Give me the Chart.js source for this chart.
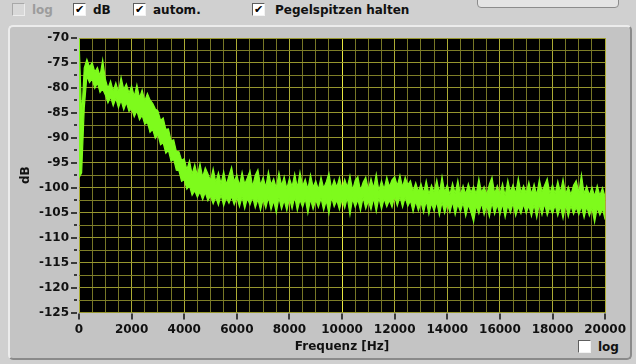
<!DOCTYPE html>
<html>
<head>
<meta charset="utf-8">
<script src="https://cdn.jsdelivr.net/npm/chart.js@4.4.1/dist/chart.umd.min.js"></script>
<style>
  html, body { margin: 0; padding: 0; }
  body {
    width: 636px; height: 364px; overflow: hidden; position: relative;
    background: #d0d0d0;
    font-family: "DejaVu Sans", sans-serif; font-weight: bold; font-size: 12px; color: #111;
  }
  .panel {
    position: absolute; left: 8px; top: 25px; width: 620px; height: 331px;
    background: #c4c4c4; border: 2px solid; border-color: #ececec #8a8a8a #8a8a8a #ececec;
    border-radius: 5px;
  }
  .topbtn {
    position: absolute; left: 477px; top: -10px; width: 140px; height: 16px;
    background: #e4e4e4; border: 1px solid #8c8c8c; border-radius: 4px;
  }
  .cb {
    position: absolute; width: 11px; height: 11px; background: #fff;
    border: 1px solid; border-color: #5e5e5e #f2f2f2 #f2f2f2 #5e5e5e;
    font-size: 11px; line-height: 11px; text-align: center; color: #000;
  }
  .cb.off { background: #d8d8d8; border-color: #a8a8a8 #ececec #ececec #a8a8a8; }
  .lbl { position: absolute; white-space: nowrap; line-height: 16px; }
  .lbl.off { color: #9c9c9c; }
  #wrap { position: absolute; left: 0; top: 0; width: 636px; height: 364px; }
</style>
</head>
<body>
<div class="topbtn"></div>
<div class="cb off" style="left:12px;top:3px"></div><div class="lbl off" style="left:32px;top:2px">log</div>
<div class="cb" style="left:73px;top:3px">✔</div><div class="lbl" style="left:93px;top:2px">dB</div>
<div class="cb" style="left:133px;top:3px">✔</div><div class="lbl" style="left:153px;top:2px">autom.</div>
<div class="cb" style="left:252px;top:3px">✔</div><div class="lbl" style="left:275px;top:2px">Pegelspitzen halten</div>
<div class="panel"></div>
<div class="cb" style="left:578px;top:340px"></div><div class="lbl" style="left:598px;top:339px">log</div>
<div id="wrap"><canvas id="spektrum" width="636" height="364"></canvas></div>

<script>
// Spektrum, 100 Hz Raster, obere und untere Huellkurve in dB
const freqStepHz = 100;

const pegelOben = [
  -70, -86, -76, -74.3, -75.8, -74.9, -76.8, -75.9, -77.6, -74.4,
  -78.2, -80.1, -78.6, -80.6, -79.0, -80.9, -77.9, -80.3, -79.2, -81.0,
  -79.6, -81.7, -79.4, -82.0, -80.4, -82.6, -81.1, -82.4, -83.1, -84.2,
  -84.6, -86.5, -86.0, -88.3, -88.2, -90.6, -90.4, -92.7, -92.8, -94.5,
  -94.2, -96.4, -94.6, -97.3, -95.4, -97.6, -95.2, -97.9, -96.0, -97.2,
  -98.6, -96.2, -98.9, -97.0, -99.2, -96.8, -99.4, -97.6, -95.9, -98.8,
  -97.4, -99.6, -96.9, -99.3, -98.0, -96.6, -99.8, -97.5, -96.4, -99.5,
  -97.9, -99.9, -96.8, -99.4, -98.2, -100.1, -97.0, -99.6, -97.8, -100.2,
  -98.1, -99.8, -97.2, -100.0, -96.9, -99.7, -98.3, -100.3, -97.4, -99.9,
  -98.6, -100.4, -97.9, -100.1, -98.8, -97.1, -100.2, -98.4, -99.9, -98.0,
  -100.2, -98.3, -99.9, -97.6, -100.5, -98.5, -97.8, -100.6, -98.9, -97.9,
  -100.4, -98.2, -100.1, -97.3, -100.6, -98.6, -100.3, -97.9, -99.8, -98.4,
  -97.8, -99.6, -97.5, -99.9, -97.9, -99.4, -98.6, -100.7, -99.0, -100.8,
  -99.2, -101.1, -98.6, -101.3, -99.5, -100.9, -98.4, -101.2, -97.8, -100.9,
  -99.4, -101.4, -99.1, -101.2, -98.5, -101.5, -99.6, -101.3, -99.2, -101.0,
  -99.7, -101.3, -98.2, -101.0, -99.8, -101.4, -99.3, -97.9, -101.2, -99.6,
  -101.3, -99.2, -101.6, -98.5, -100.9, -99.4, -101.2, -98.1, -101.0, -99.6,
  -101.1, -98.9, -101.3, -99.3, -101.5, -98.4, -100.8, -99.5, -98.2, -101.2,
  -99.4, -101.2, -98.7, -101.0, -98.3, -101.3, -99.8, -101.4, -99.5, -98.6,
  -101.0, -97.4, -101.2, -99.7, -101.5, -99.9, -101.7, -99.6, -101.6, -100.0, -101.9
];

const pegelUnten = [
  -98, -97, -84, -77.6, -78.9, -78.2, -80.1, -79.0, -80.9, -80.2,
  -81.4, -83.0, -81.8, -83.6, -82.1, -84.0, -82.5, -84.4, -82.9, -84.7,
  -84.2, -85.8, -84.6, -86.4, -85.5, -87.3, -86.9, -88.9, -88.3, -90.1,
  -89.3, -91.4, -91.0, -93.1, -92.5, -94.7, -94.3, -96.5, -96.6, -98.7,
  -98.4, -100.3, -99.6, -101.5, -100.6, -101.9, -100.8, -102.4, -100.9, -102.6,
  -101.6, -103.2, -101.9, -103.5, -101.4, -103.6, -102.0, -103.1, -101.7, -103.4,
  -101.9, -103.8, -101.8, -104.2, -102.1, -103.4, -101.9, -104.0, -102.3, -104.5,
  -102.3, -104.1, -101.9, -104.4, -102.6, -105.0, -102.0, -104.3, -102.5, -104.6,
  -102.1, -104.2, -101.8, -104.6, -102.4, -103.9, -102.2, -105.1, -102.3, -104.3,
  -102.4, -103.9, -102.1, -104.5, -102.6, -105.2, -101.9, -103.8, -102.5, -104.4,
  -102.3, -104.1, -102.0, -105.4, -102.2, -103.9, -102.4, -104.6, -101.9, -104.2,
  -102.6, -104.4, -102.1, -104.8, -102.0, -104.3, -102.2, -103.8, -102.5, -103.9,
  -101.7, -103.6, -101.8, -103.9, -101.9, -103.7, -102.6, -104.8, -102.7, -104.6,
  -102.9, -105.0, -102.6, -105.3, -103.1, -104.7, -102.8, -105.5, -102.9, -105.1,
  -103.2, -104.9, -102.8, -105.4, -103.3, -104.8, -103.0, -105.7, -103.4, -104.9,
  -106.8, -103.6, -105.2, -103.1, -105.4, -103.5, -105.8, -103.0, -105.3, -103.4,
  -105.4, -103.2, -105.9, -103.5, -105.0, -103.1, -105.6, -103.8, -105.2, -103.3,
  -105.1, -103.6, -105.7, -103.4, -106.0, -103.3, -105.4, -103.2, -105.5, -103.9,
  -105.2, -103.5, -105.6, -103.7, -106.1, -103.4, -105.8, -103.6, -105.3, -103.9,
  -105.4, -103.7, -106.0, -103.8, -105.6, -104.1, -106.9, -104.0, -105.5, -104.2, -106.4
];

const xMajorHz = [0, 2000, 4000, 6000, 8000, 10000, 12000, 14000, 16000, 18000, 20000];
const yMajorDb = [-70, -75, -80, -85, -90, -95, -100, -105, -110, -115, -120, -125];

const freqHz = pegelOben.map((_, i) => i * freqStepHz);
const traceGreen = "#7efb1c";

// schwarzer Plotbereich
const plotBackground = {
  id: "plotBackground",
  beforeDraw(chart) {
    const { ctx, chartArea: a } = chart;
    ctx.save();
    ctx.fillStyle = "#000";
    ctx.fillRect(a.left, a.top, a.right - a.left, a.bottom - a.top);
    ctx.restore();
  }
};

// Teilstriche ausserhalb des Plots (LabVIEW-Stil)
const tickMarks = {
  id: "tickMarks",
  afterDraw(chart) {
    const { ctx, chartArea: a, scales } = chart;
    ctx.save();
    ctx.strokeStyle = "#3a3a3a";
    ctx.lineWidth = 2;
    ctx.beginPath();
    yMajorDb.forEach((v, i) => {
      const y = Math.round(scales.y.getPixelForValue(v));
      ctx.moveTo(a.left - 8, y); ctx.lineTo(a.left - 2, y);
      if (i > 0) {
        const ym = Math.round(scales.y.getPixelForValue(v + 2.5));
        ctx.moveTo(a.left - 5, ym); ctx.lineTo(a.left - 2, ym);
      }
    });
    xMajorHz.forEach(v => {
      const x = Math.round(scales.x.getPixelForValue(v));
      ctx.moveTo(x, a.bottom + 1); ctx.lineTo(x, a.bottom + 7);
    });
    ctx.stroke();
    ctx.restore();
  }
};

new Chart(document.getElementById("spektrum"), {
  type: "line",
  data: {
    datasets: [{
      label: "Pegelspitzen",
      data: pegelOben.map((v, i) => ({ x: freqHz[i], y: v })),
      borderColor: traceGreen,
      borderWidth: 1.2,
      pointRadius: 0,
      fill: false
    }, {
      label: "Pegel",
      data: pegelUnten.map((v, i) => ({ x: freqHz[i], y: v })),
      borderColor: traceGreen,
      backgroundColor: traceGreen,
      borderWidth: 1.2,
      pointRadius: 0,
      fill: "-1"
    }]
  },
  options: {
    responsive: false,
    animation: false,
    events: [],
    layout: { padding: { left: 0, right: 29, top: 38, bottom: 0 } },
    plugins: { legend: { display: false }, tooltip: { enabled: false } },
    scales: {
      x: {
        type: "linear",
        min: 0, max: 20000,
        afterFit: s => { s.height = 51.5; },
        border: { display: false },
        grid: {
          drawTicks: false,
          lineWidth: 1,
          color: c => c.tick.value === 10000 ? "#e8e840"
                   : (xMajorHz.includes(c.tick.value) ? "#acac34" : "#767626")
        },
        ticks: {
          stepSize: 500, autoSkip: false, maxRotation: 0, padding: 10,
          color: "#111",
          font: { family: "DejaVu Sans", size: 12, weight: "bold" },
          callback: v => xMajorHz.includes(v) ? String(v) : ""
        },
        title: {
          display: true, text: "Frequenz [Hz]", color: "#111",
          padding: { top: 0, bottom: 10 },
          font: { family: "DejaVu Sans", size: 12, weight: "bold" }
        }
      },
      y: {
        min: -125, max: -70,
        afterFit: s => { s.width = 79; },
        border: { display: false },
        grid: {
          drawTicks: false,
          lineWidth: 1,
          color: c => yMajorDb.includes(c.tick.value) ? "#96962e" : "#7e7e28"
        },
        ticks: {
          stepSize: 2.5, autoSkip: false, padding: 10,
          color: "#111",
          font: { family: "DejaVu Sans", size: 12, weight: "bold" },
          callback: v => yMajorDb.includes(v) ? String(v) : ""
        },
        title: {
          display: true, text: "dB", color: "#111",
          padding: { top: 19, bottom: 0 },
          font: { family: "DejaVu Sans", size: 12, weight: "bold" }
        }
      }
    }
  },
  plugins: [plotBackground, tickMarks]
});
</script>
</body>
</html>
